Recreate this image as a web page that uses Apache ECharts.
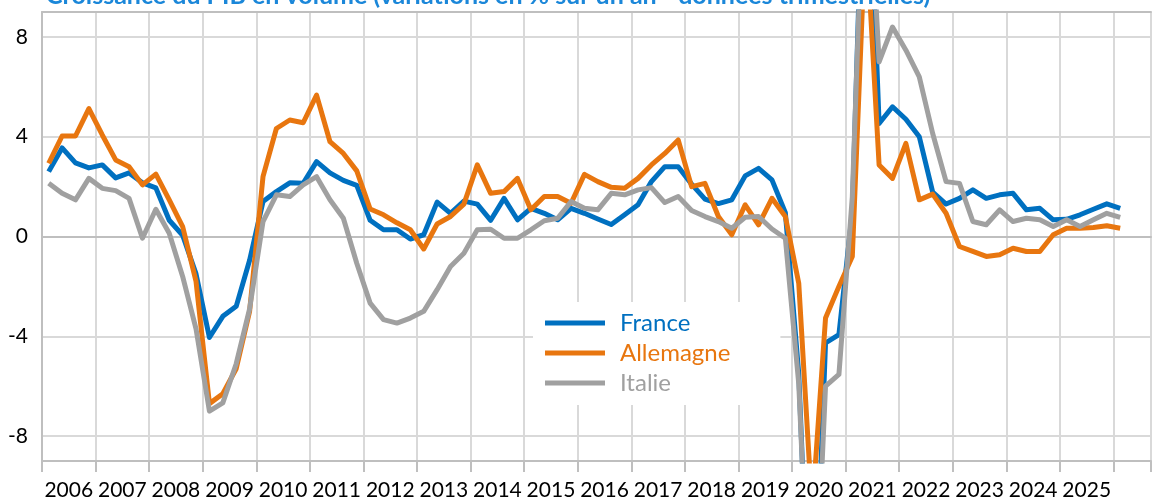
<!DOCTYPE html>
<html>
<head>
<meta charset="utf-8">
<script src="https://cdn.jsdelivr.net/npm/echarts@6/dist/echarts.min.js"></script>
<style>
  html, body { margin: 0; padding: 0; background: #fff; }
  #chart { width: 1154px; height: 502px; }
</style>
</head>
<body>
<div id="chart"></div>
<script>
const titleText = 'Croissance du PIB en volume (variations en % sur un an - données trimestrielles)';
const firstYear = 2006;
const yearLabels = ['2006','2007','2008','2009','2010','2011','2012','2013','2014','2015','2016','2017','2018','2019','2020','2021','2022','2023','2024','2025'];
const yTickLabels = [-8, -4, 0, 4, 8];
const seriesNames = ['France', 'Allemagne', 'Italie'];

// quarterly year-on-year growth, 2006 T1 onwards
const france = [
  2.6, 3.55, 2.95, 2.75, 2.87, 2.35, 2.55, 2.15,
  1.95, 0.65, 0.05, -1.5, -4.05, -3.2, -2.8, -0.95,
  1.4, 1.8, 2.15, 2.13, 3.0, 2.55, 2.25, 2.05,
  0.65, 0.27, 0.27, -0.1, 0.07, 1.38, 0.93, 1.42,
  1.3, 0.65, 1.53, 0.67, 1.13, 0.93, 0.67, 1.13,
  0.93, 0.7, 0.48, 0.87, 1.27, 2.2, 2.8, 2.8,
  2.1, 1.5, 1.32, 1.47, 2.43, 2.73, 2.27, 0.95,
  -5.5, -18.6, -4.27, -3.93, 1.0, 18.5, 4.53, 5.2,
  4.7, 4.0, 1.78, 1.3, 1.53, 1.87, 1.53, 1.67,
  1.73, 1.07, 1.13, 0.67, 0.69, 0.87, 1.09, 1.31,
  1.13
];
const allemagne = [
  2.93, 4.03, 4.03, 5.13, 4.07, 3.07, 2.8, 2.07,
  2.5, 1.47, 0.4, -1.8, -6.7, -6.3, -5.3, -3.0,
  2.4, 4.33, 4.67, 4.56, 5.67, 3.8, 3.33, 2.63,
  1.1, 0.87, 0.55, 0.27, -0.5, 0.5, 0.8, 1.3,
  2.87, 1.73, 1.8, 2.33, 1.07, 1.6, 1.6, 1.33,
  2.49, 2.2, 1.97, 1.93, 2.33, 2.87, 3.33, 3.87,
  2.0, 2.13, 0.8, 0.07, 1.27, 0.47, 1.53, 0.8,
  -1.87, -11.0, -3.27, -2.0, -0.8, 12.5, 2.87, 2.33,
  3.73, 1.47, 1.7, 0.93, -0.4, -0.6, -0.8, -0.73,
  -0.47, -0.6, -0.6, 0.07, 0.33, 0.33, 0.36, 0.43,
  0.33
];
const italie = [
  2.13, 1.73, 1.47, 2.33, 1.93, 1.84, 1.53, -0.07,
  1.09, 0.13, -1.6, -3.7, -7.0, -6.67, -5.1, -2.9,
  0.6, 1.67, 1.6, 2.07, 2.4, 1.47, 0.73, -1.07,
  -2.67, -3.33, -3.47, -3.27, -3.0, -2.13, -1.2, -0.67,
  0.27, 0.29, -0.07, -0.07, 0.27, 0.63, 0.73, 1.4,
  1.13, 1.07, 1.73, 1.67, 1.87, 1.96, 1.36, 1.6,
  1.04, 0.8, 0.6, 0.33, 0.77, 0.8, 0.3, -0.07,
  -5.9, -18.1, -6.0, -5.53, 1.6, 17.0, 7.0, 8.4,
  7.47, 6.4, 4.13, 2.2, 2.13, 0.6, 0.47, 1.07,
  0.6, 0.73, 0.67, 0.4, 0.67, 0.4, 0.67, 0.93,
  0.77
];

const colors = ['#0070C0', '#E8760F', '#A0A0A0'];
const FONT = 'Lato, "Liberation Sans", sans-serif';

function toPoints(arr) {
  return arr.map((v, i) => [firstYear + (i + 0.5) / 4, v]);
}

const chart = echarts.init(document.getElementById('chart'), null, { renderer: 'canvas' });
const xMin = 2006, xMax = 2026.7;
const option = {
  animation: false,
  backgroundColor: '#ffffff',
  textStyle: { fontFamily: FONT },
  title: {
    text: titleText,
    left: 46,
    top: -17,
    padding: 0,
    textStyle: { fontFamily: FONT, fontSize: 25, fontWeight: 'bold', color: '#1B87D9' }
  },
  grid: { left: 42, right: 0, top: 12, height: 449, containLabel: false },
  legend: {
    orient: 'vertical',
    left: 533,
    top: 302,
    backgroundColor: '#ffffff',
    padding: [9, 50, 10, 12],
    itemWidth: 60,
    itemHeight: 5,
    itemGap: 6,
    icon: 'rect',
    selectedMode: false,
    data: seriesNames.map((n, i) => ({
      name: n,
      textStyle: { color: colors[i], fontSize: 24, fontFamily: FONT, padding: [0, 0, 0, 10] }
    })),
    textStyle: { fontSize: 24, fontFamily: FONT, padding: [0, 0, 0, 10] }
  },
  xAxis: [
    {
      type: 'value', min: xMin, max: xMax, interval: 0.5, position: 'bottom',
      axisLine: { show: true, lineStyle: { color: '#BFBFBF', width: 2 } },
      axisTick: { show: false },
      axisLabel: {
        show: true, margin: 19, color: '#000', fontSize: 21, fontFamily: FONT,
        formatter: function (v) {
          const y = Math.floor(v);
          if (Math.abs(v - y - 0.5) > 1e-6) return '';
          const s = String(y);
          return yearLabels.indexOf(s) >= 0 ? s : '';
        }
      },
      splitLine: { show: true, lineStyle: { color: ['#D9D9D9', 'rgba(0,0,0,0)'], width: 2 } }
    },
    {
      type: 'value', min: xMin, max: xMax, interval: 1, position: 'bottom',
      axisLine: { show: true, lineStyle: { color: '#BFBFBF', width: 2 } },
      axisTick: { show: true, length: 11, lineStyle: { color: '#BFBFBF', width: 2 } },
      axisLabel: { show: false },
      splitLine: { show: false }
    },
    {
      type: 'value', min: xMin, max: xMax, interval: 1, position: 'top',
      axisLine: { show: true, lineStyle: { color: '#BFBFBF', width: 2 } },
      axisTick: { show: false },
      axisLabel: { show: false },
      splitLine: { show: false }
    }
  ],
  yAxis: [
    {
      type: 'value', min: -9, max: 9, interval: 1,
      axisLine: { show: true, lineStyle: { color: '#BFBFBF', width: 2 } },
      axisTick: { show: false },
      axisLabel: {
        show: true, margin: 14, color: '#000', fontSize: 21, fontFamily: FONT,
        formatter: function (v) { return yTickLabels.indexOf(v) >= 0 ? String(v) : ''; }
      },
      splitLine: { show: true, lineStyle: { color: ['rgba(0,0,0,0)', '#D9D9D9', 'rgba(0,0,0,0)', 'rgba(0,0,0,0)'], width: 2 } }
    }
  ],
  series: [france, allemagne, italie].map((arr, i) => ({
    name: seriesNames[i],
    type: 'line',
    xAxisIndex: 0,
    yAxisIndex: 0,
    data: toPoints(arr),
    showSymbol: false,
    symbol: 'none',
    clip: true,
    color: colors[i],
    lineStyle: { color: colors[i], width: 5, join: 'round', cap: 'butt' },
    emphasis: { disabled: true },
    z: 2 + i
  }))
};
chart.setOption(option);
</script>
</body>
</html>
